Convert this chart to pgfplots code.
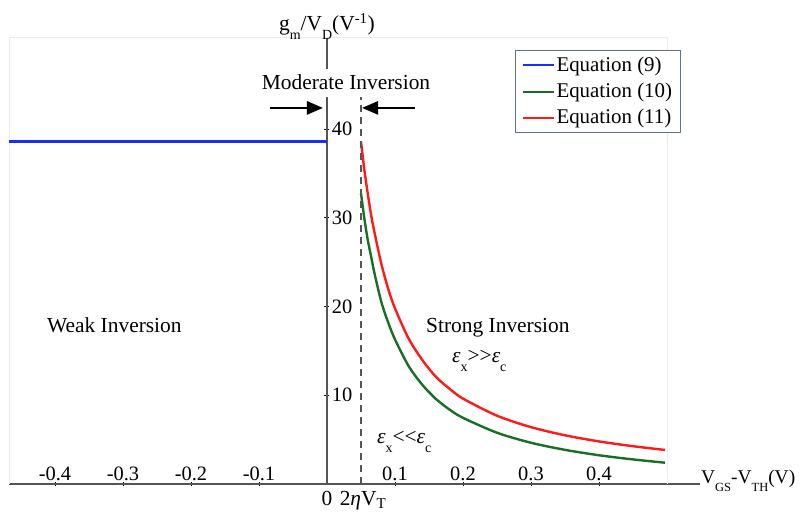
\documentclass[border=0pt]{standalone}
\usepackage{pgfplots}
\pgfplotsset{compat=1.18}
\usepackage{fontspec}
\setmainfont{Liberation Serif}
\usetikzlibrary{arrows.meta}
\definecolor{eqblue}{RGB}{25,45,255}
\definecolor{eqgreen}{RGB}{25,110,35}
\definecolor{eqred}{RGB}{255,25,25}
\definecolor{axgray}{RGB}{85,85,85}
\definecolor{legframe}{RGB}{95,115,150}
\tikzset{txt/.style={anchor=base west, inner sep=0pt}}
% low subscripts, as in the original figure
\newcommand\sub[1]{\raisebox{-9bp}{\fontsize{14}{16}\selectfont #1}}
\newcommand\smallsub[1]{\raisebox{-8bp}{\fontsize{12.5}{15}\selectfont #1}}

\begin{document}
\fontsize{21.5}{25}\selectfont
\begin{tikzpicture}
% fixed page: the plot area's lower left corner sits at the origin
\path[use as bounding box] (-9bp,-28bp) rectangle (796bp,484bp);
\begin{axis}[
  at={(0,0)}, anchor=south west,
  scale only axis, width=658bp, height=446bp,
  xmin=-0.4676, xmax=0.5, ymin=0, ymax=50.28,
  axis lines=middle,
  axis line style={-, draw=axgray, line width=1.6bp},
  x axis line style={shorten >=-33bp},
  clip=false,
  xtick={-0.4,-0.3,-0.2,-0.1,0.1,0.2,0.3,0.4},
  xticklabels={-0.4,-0.3,-0.2,-0.1,0.1,0.2,0.3,0.4},
  ytick={10,20,30,40},
  yticklabels={10,20,30,40},
  tick align=center, major tick length=5bp,
  tick style={black, line width=0.8bp},
  ticklabel style={font=\fontsize{20.5}{24}\selectfont},
  xticklabel style={anchor=base, yshift=6bp},
  yticklabel style={anchor=west, xshift=0bp},
  legend style={at={(0.769,0.973)}, anchor=north west, draw=legframe,
    line width=1bp, font=\fontsize{21}{25}\selectfont,
    inner xsep=6bp, inner ysep=4bp, row sep=4.5bp},
  legend cell align=left,
  legend image code/.code={\draw[#1, line width=2bp] (0bp,0bp) -- (31bp,0bp);},
]
\draw[black!8, line width=1bp] (rel axis cs:0,0) -- (rel axis cs:0,1)
  -- (rel axis cs:1,1) -- (rel axis cs:1,0);

\addplot[eqblue, line width=2.4bp] coordinates {(-0.4676,38.6) (0,38.6)};
\addlegendentry{Equation (9)}

\addplot[eqgreen, line width=2.4bp, smooth] coordinates {
  (0.05,32.8) (0.055,29.9) (0.06,27.5) (0.065,25.6) (0.07,23.7)
  (0.08,20.5) (0.09,18.2) (0.10,16.3) (0.12,13.3) (0.14,11.2)
  (0.16,9.6) (0.18,8.4) (0.20,7.46) (0.25,5.78) (0.30,4.65)
  (0.35,3.85) (0.40,3.24) (0.45,2.77) (0.497,2.40)
};
\addlegendentry{Equation (10)}

\addplot[eqred, line width=2.4bp, smooth] coordinates {
  (0.05,38.6) (0.055,35.4) (0.06,32.7) (0.065,30.3) (0.07,28.3)
  (0.08,24.8) (0.09,22.0) (0.10,19.8) (0.12,16.4) (0.14,14.0)
  (0.16,12.1) (0.18,10.75) (0.20,9.63) (0.25,7.70) (0.30,6.41)
  (0.35,5.49) (0.40,4.80) (0.45,4.26) (0.497,3.84)
};
\addlegendentry{Equation (11)}

\draw[axgray, line width=1.5bp, dash pattern=on 7bp off 5bp]
  (axis cs:0.05,0) -- (axis cs:0.05,43.8);

\node[fill=white, anchor=base, inner xsep=2bp, inner ysep=5bp, text depth=3bp]
  at (axis cs:0.028,44.53) {Moderate Inversion};
\draw[-{Triangle[length=16bp,width=13bp]}, line width=2.6bp]
  (axis cs:-0.0838,42.4) -- (axis cs:-0.0059,42.4);
\draw[-{Triangle[length=16bp,width=13bp]}, line width=2.6bp]
  (axis cs:0.129,42.4) -- (axis cs:0.0515,42.4);

\node[anchor=base, yshift=7bp] at (axis cs:0,50.28)
  {g\sub{m}/V\sub{D}(V\textsuperscript{-1})};
\node[txt, xshift=34bp, yshift=1bp, font=\fontsize{19.5}{23}\selectfont] at (axis cs:0.5,0)
  {V\smallsub{GS}-V\smallsub{TH}(V)};
\node[anchor=base, yshift=-21bp] at (axis cs:0,0) {0};
\node[anchor=base, yshift=-21bp, xshift=2bp] at (axis cs:0.05,0) {2{\itshape η}V\textsubscript{T}};

\node[txt] at (axis cs:-0.4118,17.1) {Weak Inversion};
\node[txt] at (axis cs:0.1456,17.1) {Strong Inversion};
\node[txt] at (axis cs:0.1838,13.75)
  {{\itshape ε}\sub{x}>\kern0pt>{\itshape ε}\sub{c}};
\node[txt] at (axis cs:0.0735,4.62)
  {{\itshape ε}\sub{x}<\kern0pt<{\itshape ε}\sub{c}};
\end{axis}
\end{tikzpicture}
\end{document}
